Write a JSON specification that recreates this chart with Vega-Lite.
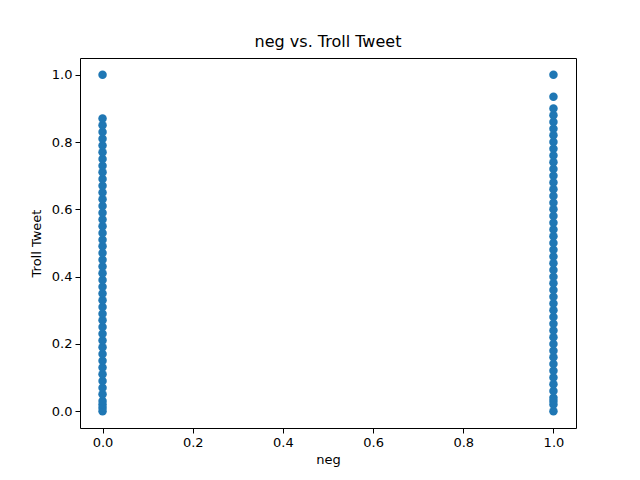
{
  "$schema": "https://vega.github.io/schema/vega-lite/v6.json",
  "width": 496,
  "height": 370,
  "autosize": {"type": "none"},
  "padding": {"left": 80, "top": 58, "right": 64, "bottom": 52},
  "title": {"text": "neg vs. Troll Tweet", "font": "DejaVu Sans", "fontSize": 16, "fontWeight": "normal", "color": "black", "offset": 8},
  "data": {"values": [
    {"t":0,"neg":0.0},{"t":0,"neg":0.01},{"t":0,"neg":0.02},{"t":0,"neg":0.03},{"t":0,"neg":0.05},{"t":0,"neg":0.07},{"t":0,"neg":0.09},{"t":0,"neg":0.11},{"t":0,"neg":0.13},{"t":0,"neg":0.15},{"t":0,"neg":0.17},{"t":0,"neg":0.19},{"t":0,"neg":0.21},{"t":0,"neg":0.23},{"t":0,"neg":0.25},{"t":0,"neg":0.27},{"t":0,"neg":0.29},{"t":0,"neg":0.31},{"t":0,"neg":0.33},{"t":0,"neg":0.35},{"t":0,"neg":0.37},{"t":0,"neg":0.39},{"t":0,"neg":0.41},{"t":0,"neg":0.43},{"t":0,"neg":0.45},{"t":0,"neg":0.47},{"t":0,"neg":0.49},{"t":0,"neg":0.51},{"t":0,"neg":0.53},{"t":0,"neg":0.55},{"t":0,"neg":0.57},{"t":0,"neg":0.59},{"t":0,"neg":0.61},{"t":0,"neg":0.63},{"t":0,"neg":0.65},{"t":0,"neg":0.67},{"t":0,"neg":0.69},{"t":0,"neg":0.71},{"t":0,"neg":0.73},{"t":0,"neg":0.75},{"t":0,"neg":0.77},{"t":0,"neg":0.79},{"t":0,"neg":0.81},{"t":0,"neg":0.83},{"t":0,"neg":0.85},{"t":0,"neg":0.87},{"t":0,"neg":1.0},
    {"t":1,"neg":0.0},{"t":1,"neg":0.02},{"t":1,"neg":0.03},{"t":1,"neg":0.04},{"t":1,"neg":0.06},{"t":1,"neg":0.08},{"t":1,"neg":0.1},{"t":1,"neg":0.12},{"t":1,"neg":0.14},{"t":1,"neg":0.16},{"t":1,"neg":0.18},{"t":1,"neg":0.2},{"t":1,"neg":0.22},{"t":1,"neg":0.24},{"t":1,"neg":0.26},{"t":1,"neg":0.28},{"t":1,"neg":0.3},{"t":1,"neg":0.32},{"t":1,"neg":0.34},{"t":1,"neg":0.36},{"t":1,"neg":0.38},{"t":1,"neg":0.4},{"t":1,"neg":0.42},{"t":1,"neg":0.44},{"t":1,"neg":0.46},{"t":1,"neg":0.48},{"t":1,"neg":0.5},{"t":1,"neg":0.52},{"t":1,"neg":0.54},{"t":1,"neg":0.56},{"t":1,"neg":0.58},{"t":1,"neg":0.6},{"t":1,"neg":0.62},{"t":1,"neg":0.64},{"t":1,"neg":0.66},{"t":1,"neg":0.68},{"t":1,"neg":0.7},{"t":1,"neg":0.72},{"t":1,"neg":0.74},{"t":1,"neg":0.76},{"t":1,"neg":0.78},{"t":1,"neg":0.8},{"t":1,"neg":0.82},{"t":1,"neg":0.84},{"t":1,"neg":0.86},{"t":1,"neg":0.88},{"t":1,"neg":0.9},{"t":1,"neg":0.935},{"t":1,"neg":1.0}
  ]},
  "mark": {"type": "point", "filled": true, "opacity": 1, "size": 72, "color": "#1f77b4"},
  "encoding": {
    "x": {"field": "t", "type": "quantitative", "title": "neg", "scale": {"domain": [-0.05, 1.05], "nice": false, "zero": false},
      "axis": {"values": [0, 0.2, 0.4, 0.6, 0.8, 1.0], "format": ".1f"}},
    "y": {"field": "neg", "type": "quantitative", "title": "Troll Tweet", "scale": {"domain": [-0.05, 1.05], "nice": false, "zero": false},
      "axis": {"values": [0, 0.2, 0.4, 0.6, 0.8, 1.0], "format": ".1f"}}
  },
  "config": {
    "view": {"stroke": "black", "strokeWidth": 1},
    "axis": {"grid": false, "domain": false, "tickColor": "black", "tickSize": 5, "labelColor": "black", "labelFont": "DejaVu Sans", "labelFontSize": 13, "titleFont": "DejaVu Sans", "titleFontSize": 13, "titleFontWeight": "normal", "titleColor": "black", "labelPadding": 3},
    "axisX": {"titlePadding": 4},
    "axisY": {"titlePadding": 8}
  }
}
